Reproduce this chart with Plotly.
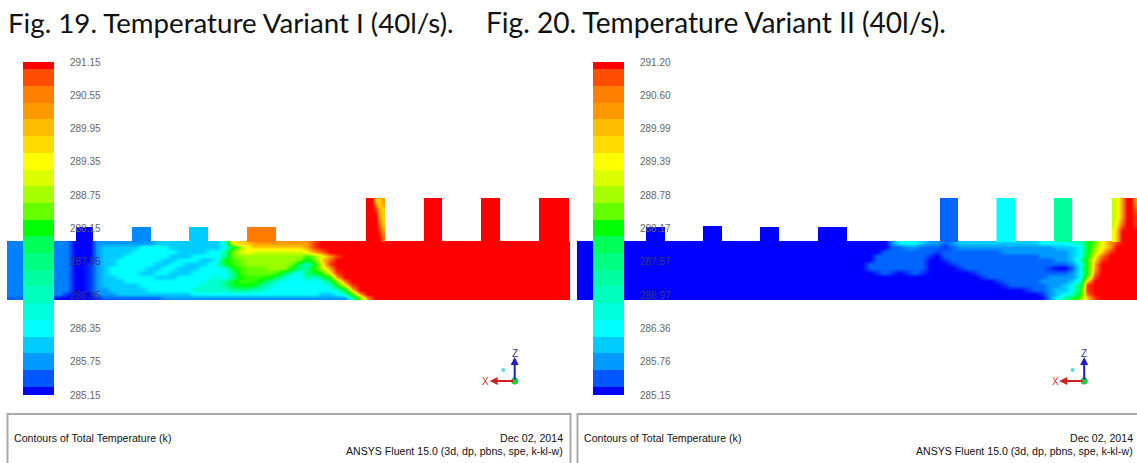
import colorsys
import numpy as np
import plotly.graph_objects as go

LEVELS = "0123456789abcdefghijk"

title_left = "Fig. 19. Temperature Variant I (40l/s)."
title_right = "Fig. 20. Temperature Variant II (40l/s)."
caption = "Contours of Total Temperature (k)"
stamp_date = "Dec 02, 2014"
stamp_solver = "ANSYS Fluent 15.0 (3d, dp, pbns, spe, k-kl-w)"

ticks_left = ["291.15", "290.55", "289.95", "289.35", "288.75", "288.15",
              "287.55", "286.95", "286.35", "285.75", "285.15"]
ticks_right = ["291.20", "290.60", "289.99", "289.39", "288.78", "288.17",
               "287.57", "286.97", "286.36", "285.76", "285.15"]

# colour-bar bands, bottom to top, in field-level units
bar_levels = [0, 1.7, 3, 4, 5, 5.7, 6.3, 6.8, 7.5, 8.3, 10, 12, 13.3, 14.3,
              15, 15.7, 16.3, 17, 17.5, 18.5, 20]

# temperature level (0 = coldest, k = 20 = hottest, x = 2.5) read from the duct, in 75 columns
duct_left = [
    "xxxxx xxxx0 00333 33333 44444 44446 fgghh hhhhh hjkkk kkkkk kkkkk kkkkk kkkkk kkkkk kkkkk",
    "xxxxx xxxx0 00344 44455 55444 44445 9dfgg ggggg hjkkk kkkkk kkkkk kkkkk kkkkk kkkkk kkkkk",
    "xxxxx xxxx0 00344 44555 55544 44557 cefee eeeee fhikk kkkkk kkkkk kkkkk kkkkk kkkkk kkkkk",
    "xxxxx xxxx0 00344 45555 55444 55557 cdddd ddddd bdfhj kkkkk kkkkk kkkkk kkkkk kkkkk kkkkk",
    "xxxxx xxxx0 00344 55555 54455 5445a bcddd ddddc 9cgik kkkkk kkkkk kkkkk kkkkk kkkkk kkkkk",
    "xxxxx xxxx0 01344 55555 44554 44569 bcddd dddc8 6afjk kkkkk kkkkk kkkkk kkkkk kkkkk kkkkk",
    "xxxxx xxxx0 01345 55554 45544 45556 9bccc ddda7 7behk kkkkk kkkkk kkkkk kkkkk kkkkk kkkkk",
    "xxxxx xxxx0 01345 55544 55444 55555 7bccc cb865 89bfj kkkkk kkkkk kkkkk kkkkk kkkkk kkkkk",
    "xxxxx xxxx0 01344 55555 44455 55565 7abbb a8655 768bh kkkkk kkkkk kkkkk kkkkk kkkkk kkkkk",
    "xxxxx xxxx0 01344 45555 55555 55667 9bbb9 76555 5568d ikkkk kkkkk kkkkk kkkkk kkkkk kkkkk",
    "xxxxx xxxx0 01344 44455 55555 56667 9aa97 65555 5556a fjkkk kkkkk kkkkk kkkkk kkkkk kkkkk",
    "xxxxx xxxx0 01334 44445 55555 66666 77766 55555 55556 9gkkk kkkkk kkkkk kkkkk kkkkk kkkkk",
    "xxxxx xxx10 00333 44444 44444 55555 55555 55555 55445 6bhkk kkkkk kkkkk kkkkk kkkkk kkkkk",
    "22222 21000 00122 22222 23333 33333 33333 33333 33333 36chk kkkkk kkkkk kkkkk kkkkk kkkkk",
]
duct_right = [
    "00000 00000 00000 00000 00000 00000 00000 00000 00355 54332 34444 44444 44555 5669c fhjkk",
    "00000 00000 00000 00000 00000 00000 00000 00000 00223 32221 23333 33333 33334 4459d fhkkk",
    "00000 00000 00000 00000 00000 00000 00000 00000 02222 22212 22222 22333 33333 3459e gjkkk",
    "00000 00000 00000 00000 00000 00000 00000 00000 22222 22102 22222 22222 22333 345af ikkkk",
    "00000 00000 00000 00000 00000 00000 00000 00000 22222 22001 22222 22222 22223 346bg jkkkk",
    "00000 00000 00000 00000 00000 00000 00000 00002 22222 22000 12222 22222 22222 235ah kkkkk",
    "00000 00000 00000 00000 00000 00000 00000 00002 22222 22000 01222 22222 22210 025bh kkkkk",
    "00000 00000 00000 00000 00000 00000 00000 00000 12101 21000 00012 22222 22222 235ai kkkkk",
    "00000 00000 00000 00000 00000 00000 00000 00000 00000 00000 00001 22222 22233 335cj kkkkk",
    "00000 00000 00000 00000 00000 00000 00000 00000 00000 00000 00000 01222 22333 346gk kkkkk",
    "00000 00000 00000 00000 00000 00000 00000 00000 00000 00000 00000 00122 22233 458jk kkkkk",
    "00000 00000 00000 00000 00000 00000 00000 00000 00000 00000 00000 00000 12234 459jk kkkkk",
    "00000 00000 00000 00000 00000 00000 00000 00000 00000 00000 00000 00000 00134 56aik kkkkk",
    "00000 00000 00000 00000 00000 00000 00000 00000 00000 00000 00000 00000 00035 79cgj kkkkk",
]

# outlet stub with a streak of cooler air, left panel
stub_streak_left = ["kkggh", "kkjgg", "kkkhg", "kkkig", "kkkjh", "kkkki"]
# outlet stub cut off by the window edge, right panel
stub_streak_right = ["efhkkh", "efhkki", "efhkkj", "egikkj", "fhkkkk", "fhkkkk"]

# plain stubs: left edge, right edge, top edge, level
stubs_left = [(76, 93, 227, 0), (132, 151, 227, 2.7), (189, 208, 227, 4), (247, 276, 227, 17.6),
              (424, 442, 198, 20), (481, 500, 198, 20), (539, 569, 198, 20)]
stubs_right = [(646, 664.5, 227, 0), (703, 722, 226, 0), (760, 779, 227, 0), (818, 847, 227, 0),
               (940, 958, 198, 2), (996.5, 1015, 198, 5), (1054, 1072, 198, 7)]


def to_matrix(rows):
    return [[2.5 if ch == "x" else LEVELS.index(ch) for ch in row.replace(" ", "")] for row in rows]


def level_colour(level):
    r, g, b = colorsys.hsv_to_rgb((240 - 12 * level) / 360, 1, 1)
    return f"rgb({round(r*255)},{round(g*255)},{round(b*255)})"


smooth_scale = [[i / 20, level_colour(i)] for i in range(21)]

GREY = "#666666"
fig = go.Figure()


def field(z, x, y):
    fig.add_trace(go.Heatmap(z=z, x=x, y=y, colorscale=smooth_scale, zmin=0, zmax=20,
                             zsmooth="best", showscale=False, hoverinfo="skip"))


def duct(rows, left, right):
    z = to_matrix(rows)
    xs = left + 7.5 * np.arange(len(z[0]), dtype=float)
    xs[0] = left + 2.5
    xs[-1] = right - 5
    ys = 243.1 + 4.23 * np.arange(len(z))
    field(z, xs, ys)


def plain_stub(x0, x1, top, level):
    fig.add_trace(go.Heatmap(z=[[level]], x=[x0, x1], y=[top, 242], colorscale=smooth_scale,
                             zmin=0, zmax=20, showscale=False, hoverinfo="skip"))


def streak_stub(rows, x0, x1):
    z = to_matrix(rows)
    n = len(z[0])
    w = (x1 - x0) / n
    xs = x0 + w * (np.arange(n) + 0.5)
    ys = 198 + 7.4 * (np.arange(len(z)) + 0.5)
    field(z, xs, ys)


def colour_bar(x0, x1):
    edges = [395.0] + list(395 - 8.35 - 16.7 * np.arange(20)) + [62.0]
    fig.add_trace(go.Heatmap(z=[[v] for v in bar_levels], x=[x0, x1], y=edges,
                             colorscale=smooth_scale, zmin=0, zmax=20,
                             showscale=False, hoverinfo="skip"))


duct(duct_left, 7, 570)
duct(duct_right, 577, 1139)
for s in stubs_left:
    plain_stub(*s)
for s in stubs_right:
    plain_stub(*s)
streak_stub(stub_streak_left, 366, 385)
streak_stub(stub_streak_right, 1112, 1137)
colour_bar(23, 54)
colour_bar(593, 624)


def text(x, y, s, size, color, anchor="left", font="Liberation Sans"):
    fig.add_annotation(x=x, y=y, text=s, showarrow=False, xanchor=anchor, yanchor="middle",
                       font=dict(family=font, size=size, color=color), xref="x", yref="y")


for labels, x in ((ticks_left, 68), (ticks_right, 638)):
    for i, t in enumerate(labels):
        text(x, 62 + 33.3 * i, t, 10, "#3a3a70" if i in (6, 7) else GREY)

text(6, 22, title_left, 27.7, "#111111", font="Lato")
text(484, 22, title_right, 28.1, "#111111", font="Lato")

# footer boxes
for x0, x1 in ((7.5, 570.5), (577.5, 1143)):
    fig.add_shape(type="rect", x0=x0, x1=x1, y0=414, y1=470, xref="x", yref="y",
                  line=dict(color="#aaaaaa", width=2), fillcolor="white", layer="below")
for left, right in ((12, 565), (582, 1135)):
    text(left, 438, caption, 10.6, "#111111")
    text(right, 438, stamp_date, 10.6, "#111111", anchor="right")
    text(right, 451, stamp_solver, 10.6, "#111111", anchor="right")

# orientation triads
for base in (514.7, 1084.2):
    fig.add_annotation(x=base, y=357, ax=base, ay=381, axref="x", ayref="y", xref="x", yref="y",
                       text="", showarrow=True, arrowhead=2, arrowwidth=2, arrowsize=0.8,
                       arrowcolor="#1c1ccc")
    fig.add_annotation(x=base - 25, y=381, ax=base, ay=381, axref="x", ayref="y", xref="x",
                       yref="y", text="", showarrow=True, arrowhead=2, arrowwidth=2,
                       arrowsize=0.8, arrowcolor="#cc2222")
    fig.add_trace(go.Scatter(x=[base], y=[381], mode="markers", hoverinfo="skip",
                             marker=dict(color="#22cc44", size=7)))
    fig.add_trace(go.Scatter(x=[base - 11.5], y=[370], mode="markers", hoverinfo="skip",
                             marker=dict(color="#55dddd", size=4)))
    text(base, 353, "Z", 10, "#333388", anchor="center")
    text(base - 29, 381, "X", 10, "#cc3333", anchor="center")

fig.update_layout(
    width=1137, height=463, margin=dict(l=0, r=0, t=0, b=0),
    paper_bgcolor="white", plot_bgcolor="white", showlegend=False,
    xaxis=dict(range=[0, 1137], visible=False, fixedrange=True),
    yaxis=dict(range=[463, 0], visible=False, fixedrange=True),
)
fig.write_html("out.html", config={"displayModeBar": False},
               post_script="document.body.style.margin='0';document.body.style.overflow='hidden';")
